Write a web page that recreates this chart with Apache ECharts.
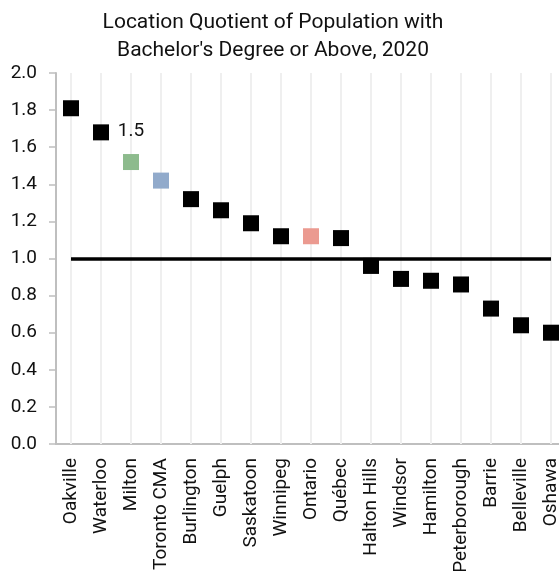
<!DOCTYPE html>
<html>
<head>
<meta charset="utf-8">
<script src="https://cdn.jsdelivr.net/npm/echarts@6/dist/echarts.min.js"></script>
<style>
  html, body { margin: 0; padding: 0; background: #fff; }
  #chart { width: 559px; height: 571px; }
</style>
</head>
<body>
<div id="chart"></div>
<script>
// Location quotient by place, 2020
const categories = ['Oakville', 'Waterloo', 'Milton', 'Toronto CMA', 'Burlington', 'Guelph',
  'Saskatoon', 'Winnipeg', 'Ontario', 'Québec', 'Halton Hills', 'Windsor', 'Hamilton',
  'Peterborough', 'Barrie', 'Belleville', 'Oshawa'];
const quotients = [1.81, 1.68, 1.52, 1.42, 1.32, 1.26, 1.19, 1.12, 1.12, 1.11, 0.96, 0.89,
  0.88, 0.86, 0.73, 0.64, 0.60];
const yTicks = [0, 0.2, 0.4, 0.6, 0.8, 1.0, 1.2, 1.4, 1.6, 1.8, 2.0];
const benchmark = 1.0;
const labelled = ['Milton'];

// Highlight colours for selected places; everything else is black
const highlight = { 'Milton': '#8dbb8d', 'Toronto CMA': '#91aacb', 'Ontario': '#eb9a90' };

const FONT = 'Roboto';
const chart = echarts.init(document.getElementById('chart'));

const points = categories.map((c, i) => ({
  value: quotients[i],
  itemStyle: { color: highlight[c] || '#000', opacity: 1 },
  label: {
    show: labelled.includes(c),
    position: 'top',
    distance: 13,
    formatter: p => p.value.toFixed(1),
    fontFamily: FONT,
    fontSize: 19,
    color: '#111'
  }
}));

chart.setOption({
  animation: false,
  title: {
    text: 'Location Quotient of Population with\nBachelor\'s Degree or Above, 2020',
    left: 268,
    top: 4,
    textAlign: 'center',
    textStyle: { fontFamily: FONT, fontSize: 21, fontWeight: 'normal', color: '#111', lineHeight: 28 }
  },
  // the plot runs slightly past the right edge of the canvas
  grid: { left: 56, width: 510, top: 73, height: 371, containLabel: false, outerBoundsMode: 'none' },
  xAxis: {
    type: 'category',
    data: categories,
    boundaryGap: true,
    axisLine: { lineStyle: { color: '#bfbfbf', width: 2 } },
    axisTick: { show: false },
    axisLabel: {
      rotate: 90, interval: 0, margin: 14,
      fontFamily: FONT, fontSize: 19, color: '#111'
    },
    splitLine: { show: false }
  },
  yAxis: {
    type: 'value',
    min: yTicks[0],
    max: yTicks[yTicks.length - 1],
    interval: 0.2,
    axisLine: { show: true, lineStyle: { color: '#bfbfbf', width: 2 } },
    axisTick: { show: true, length: 7, lineStyle: { color: '#bfbfbf', width: 1.5 } },
    axisLabel: {
      margin: 19, fontFamily: FONT, fontSize: 19, color: '#111',
      formatter: v => v.toFixed(1)
    },
    splitLine: { show: false }
  },
  series: [
    {
      // vertical guides at each category
      type: 'line',
      data: [],
      silent: true,
      z: 1,
      markLine: {
        silent: true,
        symbol: 'none',
        label: { show: false },
        animation: false,
        z: 1,
        data: categories.map(c => ({ xAxis: c, lineStyle: { color: '#efefef', width: 2, type: 'solid' } }))
      }
    },
    {
      type: 'scatter',
      symbol: 'rect',
      symbolSize: 16,
      z: 5,
      data: points,
      // benchmark line at 1.0, first to last category
      markLine: {
        silent: true,
        symbol: 'none',
        label: { show: false },
        animation: false,
        z: 4,
        lineStyle: { color: '#000', width: 3.5, type: 'solid' },
        data: [[
          { coord: [categories[0], benchmark] },
          { coord: [categories[categories.length - 1], benchmark] }
        ]]
      }
    }
  ]
});
</script>
</body>
</html>
